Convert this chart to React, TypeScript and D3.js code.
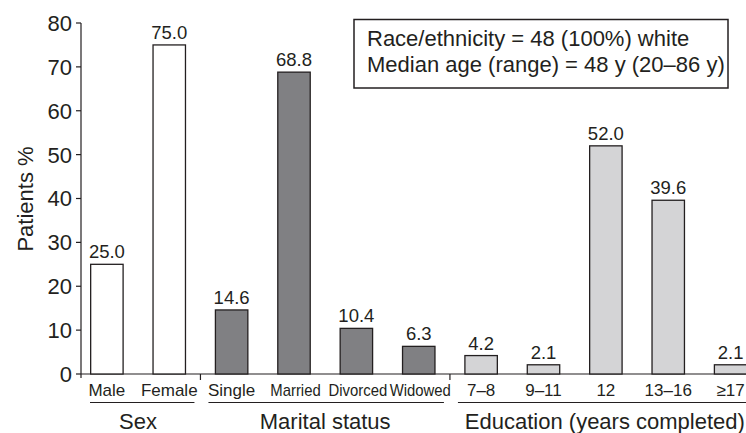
import React, { useEffect, useRef } from "react";
import * as d3 from "d3";

const categories = ["Male", "Female", "Single", "Married", "Divorced", "Widowed", "7–8", "9–11", "12", "13–16", "≥17"];
const values = [25.0, 75.0, 14.6, 68.8, 10.4, 6.3, 4.2, 2.1, 52.0, 39.6, 2.1];
const groupOf = ["Sex", "Sex", "Marital", "Marital", "Marital", "Marital", "Edu", "Edu", "Edu", "Edu", "Edu"];
const groups = ["Sex", "Marital", "Edu"];
const groupLabels = ["Sex", "Marital status", "Education (years completed)"];
const yTicks = [0, 10, 20, 30, 40, 50, 60, 70, 80];
const noteLines = ["Race/ethnicity = 48 (100%) white", "Median age (range) = 48 y (20–86 y)"];

const W = 746;
const H = 433;
const INK = "#231f20";
const fills: Record<string, string> = { Sex: "#ffffff", Marital: "#808083", Edu: "#d4d4d6" };
const FONT = "'Liberation Sans', Arial, Helvetica, sans-serif";
const condensed = new Set(["Married", "Divorced", "Widowed"]);

export default function App() {
  const labelsRef = useRef<SVGGElement>(null);
  const x = d3.scaleBand<string>().domain(categories).range([81, 756.5]).paddingInner(0.48).paddingOuter(0.155);
  const y = d3.scaleLinear().domain([0, 80]).range([374, 23]);
  const bw = x.bandwidth();

  useEffect(() => {
    if (!labelsRef.current) return;
    d3.select(labelsRef.current)
      .selectAll<SVGTextElement, unknown>("text")
      .each(function () {
        const name = this.textContent || "";
        if (condensed.has(name) && !this.hasAttribute("textLength")) {
          const len = this.getComputedTextLength();
          this.setAttribute("textLength", String(len * 0.875));
          this.setAttribute("lengthAdjust", "spacingAndGlyphs");
        }
      });
  }, []);

  const center = (c: string) => (x(c) as number) + bw / 2;
  const bounds: number[] = [81];
  for (let i = 1; i < categories.length; i++) {
    if (groupOf[i] !== groupOf[i - 1]) bounds.push((center(categories[i - 1]) + center(categories[i])) / 2);
  }
  bounds.push(W + 10);

  return (
    <div>
      <style>{`body{margin:0}`}</style>
      <svg width={W} height={H} style={{ display: "block", fontFamily: FONT }}>
        <rect width={W} height={H} fill="#fff" />
        <line x1={81} x2={81} y1={y(80)} y2={378} stroke={INK} strokeWidth={1.2} />
        <line x1={81} x2={W} y1={y(0)} y2={y(0)} stroke={INK} strokeWidth={1.2} />
        {yTicks.map((t) => (
          <g key={t}>
            <line x1={76} x2={81} y1={y(t)} y2={y(t)} stroke={INK} strokeWidth={1.2} />
            <text x={72} y={y(t)} dy="0.36em" textAnchor="end" fontSize={22} fill={INK}>
              {t}
            </text>
          </g>
        ))}
        <text transform={`translate(33,199) rotate(-90)`} textAnchor="middle" fontSize={22} fill={INK}>
          Patients %
        </text>
        {bounds.slice(1, -1).map((b, i) => (
          <line key={i} x1={b} x2={b} y1={y(0)} y2={380} stroke={INK} strokeWidth={1.2} />
        ))}
        {categories.map((c, i) => (
          <g key={c}>
            <rect
              x={x(c)}
              y={y(values[i])}
              width={bw}
              height={y(0) - y(values[i])}
              fill={fills[groupOf[i]]}
              stroke={INK}
              strokeWidth={1.3}
            />
            <text x={center(c)} y={y(values[i]) - 6} textAnchor="middle" fontSize={18.5} fill={INK}>
              {values[i].toFixed(1)}
            </text>
          </g>
        ))}
        <g ref={labelsRef}>
          {categories.map((c) => (
            <text key={c} x={center(c) + (condensed.has(c) ? 1.5 : 0)} y={395.5} textAnchor="middle" fontSize={17} fill={INK}>
              {c}
            </text>
          ))}
        </g>
        {groups.map((g, gi) => {
          const members = categories.filter((_, i) => groupOf[i] === g);
          const cx = (center(members[0]) + center(members[members.length - 1])) / 2;
          const x1 = bounds[gi] + (gi === 0 ? 9 : 8);
          const x2 = Math.min(bounds[gi + 1] - 6, W);
          return (
            <g key={g}>
              <line x1={x1} x2={x2} y1={402.5} y2={402.5} stroke={INK} strokeWidth={1.2} />
              <text x={gi === groups.length - 1 ? cx - 1 : cx} y={428.5} textAnchor="middle" fontSize={22} fill={INK}>
                {groupLabels[gi]}
              </text>
            </g>
          );
        })}
        <rect x={354} y={19.5} width={374} height={68.5} fill="#fff" stroke={INK} strokeWidth={1.5} />
        {noteLines.map((l, i) => (
          <text key={i} x={367} y={46 + i * 25.7} fontSize={22} fill={INK}>
            {l}
          </text>
        ))}
      </svg>
    </div>
  );
}
